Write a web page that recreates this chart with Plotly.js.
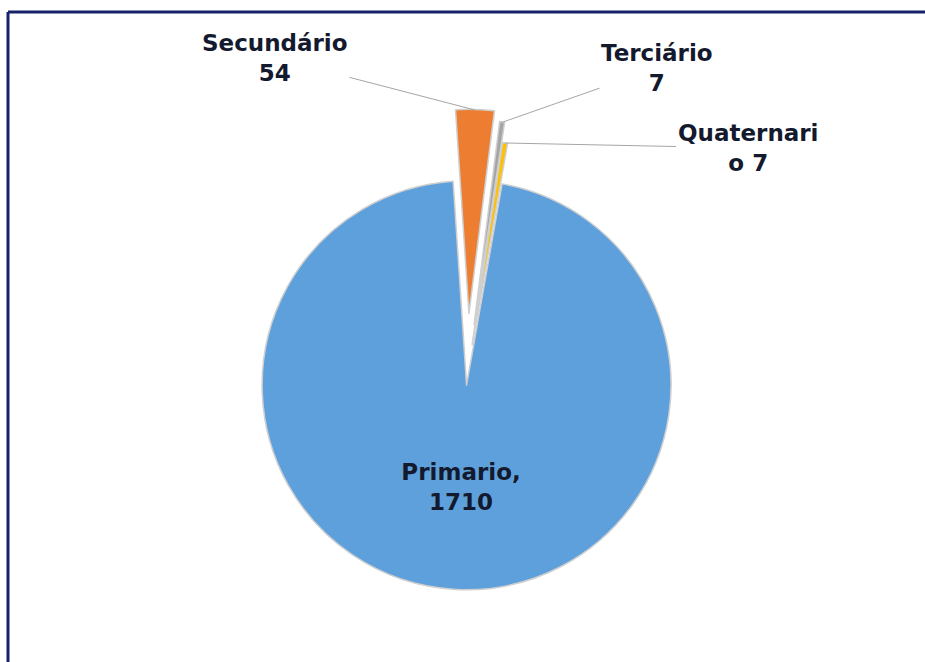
<!DOCTYPE html>
<html><head><meta charset="utf-8">
<script src="https://cdn.plot.ly/plotly-3.0.1.min.js"></script>
<style>html,body{margin:0;padding:0;background:#fff;}#chart{width:925px;height:662px;}</style>
</head><body><div id="chart"></div>
<script>
const categories = ["Primario", "Secundário", "Terciário", "Quaternario"];
const values = [1710, 54, 7, 7];
const labelTexts = ["Primario,<br>1710", "Secundário<br>54", "Terciário<br>7", "Quaternari<br>o 7"];
const colors = ["#5EA0DC", "#ED7D31", "#A5A5A5", "#FFC000"];

const W = 925, H = 662;
const px = v => v / W;
const py = v => 1 - v / H;

const trace = {
  type: "pie",
  labels: categories,
  values: values,
  text: labelTexts,
  texttemplate: ["%{text}", "", "", ""],
  hoverinfo: "label+value",
  sort: false,
  direction: "clockwise",
  rotation: 10,
  pull: [0.05, 0.3, 0.25, 0.15],
  textposition: ["inside", "none", "none", "none"],
  insidetextorientation: "horizontal",
  marker: {colors: colors, line: {color: "#cfcfcf", width: 1.5}},
  textfont: {family: "DejaVu Sans, sans-serif", size: 23, color: "#141a2e", weight: "bold"},
  domain: {x: [0.217, 0.793], y: [0.032, 0.835]},
  showlegend: false
};

const labelFont = {family: "DejaVu Sans, sans-serif", size: 23, color: "#141a2e", weight: "bold"};
// [slice point x, y, label centre x, y] in pixels
const anchors = [null, [475, 110, 275, 58], [503, 122, 657, 68], [505, 143, 748, 148]];
const annotations = [];
for (let i = 1; i < categories.length; i++) {
  const a = anchors[i];
  annotations.push({
    xref: "paper", yref: "paper", x: px(a[0]), y: py(a[1]),
    ax: a[2] - a[0], ay: a[3] - a[1],
    text: labelTexts[i], showarrow: true, arrowhead: 0, arrowwidth: 1, arrowcolor: "#a6a6a6",
    font: labelFont, align: "center"
  });
}

const layout = {
  width: W, height: H,
  margin: {l: 0, r: 0, t: 0, b: 0},
  paper_bgcolor: "#ffffff",
  showlegend: false,
  annotations: annotations,
  shapes: [
    {type: "line", xref: "paper", yref: "paper", x0: px(8), x1: 1, y0: py(12), y1: py(12), line: {color: "#16236a", width: 3}},
    {type: "line", xref: "paper", yref: "paper", x0: px(8), x1: px(8), y0: py(12), y1: 0, line: {color: "#16236a", width: 3}}
  ]
};

Plotly.newPlot("chart", [trace], layout, {displayModeBar: false, staticPlot: true});
</script></body></html>
